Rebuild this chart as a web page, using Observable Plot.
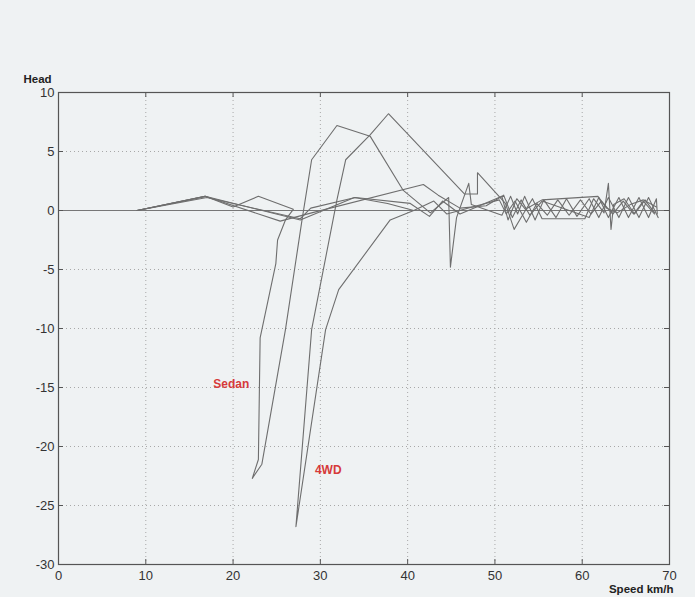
<!DOCTYPE html>
<html><head><meta charset="utf-8">
<script src="https://cdn.jsdelivr.net/npm/d3@7"></script>
<script src="https://cdn.jsdelivr.net/npm/@observablehq/plot@0.6"></script>
<style>
html,body{margin:0;padding:0;background:#eff2f3;}
#chart{width:695px;height:597px;}
</style></head><body><div id="chart"></div>
<script>
const xTicks = [0, 10, 20, 30, 40, 50, 60, 70];
const yTicks = [-30, -25, -20, -15, -10, -5, 0, 5, 10];

// Sedan run (deep dip near 22 km/h, peak ~7 near 32 km/h)
const sedanX = [9, 16.8, 20.0, 22.9, 26.9, 26.0, 25.1, 24.9, 23.1, 22.9, 22.2, 23.3, 26.0, 27.9, 29.0, 31.9, 35.7, 39.5, 42.6, 44.7, 44.9, 45.6, 47.0, 47.3, 50.8, 51.8, 52.6, 53.4, 54.6, 55.6, 57.0, 58.2, 59.4, 60.8, 61.9, 63.0, 64.2, 65.3, 66.5, 67.6, 68.7];
const sedanY = [0, 1.2, 0.3, 1.2, 0.1, -0.8, -2.5, -4.5, -10.8, -21.1, -22.7, -21.5, -10.1, -0.8, 4.3, 7.2, 6.3, 1.7, -0.2, 1.1, -4.8, -0.6, 2.3, 0.5, -0.4, 1.2, -0.3, 1.2, -0.8, 0.9, -0.6, 1.0, -0.5, 1.0, -0.6, 1.1, -0.6, 1.1, -0.6, 1.1, -0.6];

// 4WD run (deep dip near 27 km/h, peak ~8 near 38 km/h)
const wdX = [9, 16.8, 27.7, 33.9, 37.7, 40.7, 38.0, 32.1, 30.6, 27.2, 29.0, 31.9, 32.9, 35.7, 37.8, 46.5, 48.0, 48.0, 51.2, 52.2, 53.0, 54.3, 55.4, 60.3, 61.3, 62.5, 63.0, 63.3, 63.6, 64.8, 66.0, 67.2, 68.3];
const wdY = [0, 1.2, -0.8, 1.1, 0.6, 0.0, -0.8, -6.7, -10.1, -26.8, -10.1, 0.9, 4.3, 6.4, 8.2, 1.4, 1.4, 3.2, 0.6, -1.6, -0.6, 1.0, -0.7, -0.7, 1.0, -0.2, 2.3, -1.6, 0.5, 1.0, -0.3, 0.9, -0.2];

// third run
const run3X = [9, 16.8, 25.4, 29.0, 41.8, 43.5, 46.0, 49.0, 51.0, 52.0, 53.0, 54.0, 55.4, 60.8, 61.9, 63.0, 64.2, 65.3, 66.5, 67.6, 68.5, 68.6];
const run3Y = [0, 1.2, -0.9, -0.2, 2.2, 1.3, 0.2, 0.4, 1.3, -0.6, 0.9, -0.4, 0.8, -0.6, 1.1, -0.6, 1.1, -0.6, 1.1, -0.6, 1.0, -0.3];

// fourth run
const run4X = [9, 17.0, 27.7, 28.9, 34.0, 40.3, 42.5, 44.0, 46.0, 50.8, 51.5, 52.5, 53.5, 55.4, 61.8, 62.8, 64.0, 65.5, 67.0, 68.5];
const run4Y = [0, 1.1, -0.7, 0.2, 1.1, 0.6, -0.5, 0.8, -0.3, 1.2, -0.8, 1.0, 0.1, 0.9, 1.2, 0.2, -0.2, 0.5, 0.9, 0.3];

// fifth run (high-speed part only)
const run5X = [40.7, 43.0, 44.5, 47.4, 50.5, 51.3, 52.3, 53.6, 54.8, 56.0, 57.2, 58.5, 59.8, 61.0, 62.2, 63.5, 64.7, 65.9, 67.0, 68.3];
const run5Y = [0.0, 0.8, -0.3, 0.3, 0.9, -0.3, 0.8, -1.0, 0.6, -0.4, 0.9, -0.4, 0.9, -0.3, 0.8, -0.3, 0.8, -0.3, 0.8, -0.3];

const labelText = ["Sedan", "4WD"];
const labelX = [19.8, 30.9];
const labelY = [-14.7, -22.0];

const runs = [
  {name: "sedan", x: sedanX, y: sedanY},
  {name: "4wd", x: wdX, y: wdY},
  {name: "r3", x: run3X, y: run3Y},
  {name: "r4", x: run4X, y: run4Y},
  {name: "r5", x: run5X, y: run5Y}
];
const rows = runs.flatMap(r => r.x.map((x, i) => ({run: r.name, x, y: r.y[i]})));
const labels = labelText.map((t, i) => ({text: t, x: labelX[i], y: labelY[i]}));

const W = 695, H = 597, mL = 58, mR = 26, mT = 92, mB = 33;
const fw = W - mL - mR, fh = H - mT - mB;

const chart = Plot.plot({
  width: W, height: H,
  marginLeft: mL, marginRight: mR, marginTop: mT, marginBottom: mB,
  style: {background: "transparent", fontFamily: "Liberation Sans, Arial, sans-serif"},
  x: {domain: [0, 70], ticks: xTicks},
  y: {domain: [-30, 10], ticks: yTicks},
  marks: [
    Plot.gridX(xTicks.slice(1, -1), {stroke: "#a8a8a8", strokeOpacity: 1, strokeDasharray: "1,3"}),
    Plot.gridY(yTicks.slice(1, -1), {stroke: "#a8a8a8", strokeOpacity: 1, strokeDasharray: "1,3"}),
    Plot.ruleY([0], {stroke: "#777", strokeWidth: 1.2}),
    Plot.line(rows, {x: "x", y: "y", z: "run", stroke: "#6e6e6e", strokeWidth: 1.1}),
    Plot.tickX(xTicks, {x: d => d, insetBottom: fh - 5, stroke: "#555"}),
    Plot.tickX(xTicks, {x: d => d, insetTop: fh - 5, stroke: "#555"}),
    Plot.tickY(yTicks, {y: d => d, insetRight: fw - 5, stroke: "#555"}),
    Plot.tickY(yTicks, {y: d => d, insetLeft: fw - 5, stroke: "#555"}),
    Plot.frame({stroke: "#555", strokeWidth: 1.2}),
    Plot.axisX(xTicks, {anchor: "bottom", tickSize: 0, tickPadding: 6, fontSize: 13, fill: "#333", label: null, tickFormat: d => String(d)}),
    Plot.axisY(yTicks, {anchor: "left", tickSize: 0, tickPadding: 4, fontSize: 13, fill: "#333", label: null, tickFormat: d => String(d)}),
    Plot.text(labels, {x: "x", y: "y", text: "text", fill: "#d63a3a", fontSize: 12, fontWeight: "bold"}),
    Plot.text(["Head"], {frameAnchor: "top-left", text: d => d, dx: -35, dy: -18, textAnchor: "start", fontSize: 11.5, fontWeight: "bold", fill: "#222"}),
    Plot.text(["Speed km/h"], {frameAnchor: "bottom-right", text: d => d, dx: 4, dy: 28, textAnchor: "end", fontSize: 11.5, fontWeight: "bold", fill: "#222"})
  ]
});
document.getElementById("chart").appendChild(chart);
</script>
</body></html>
